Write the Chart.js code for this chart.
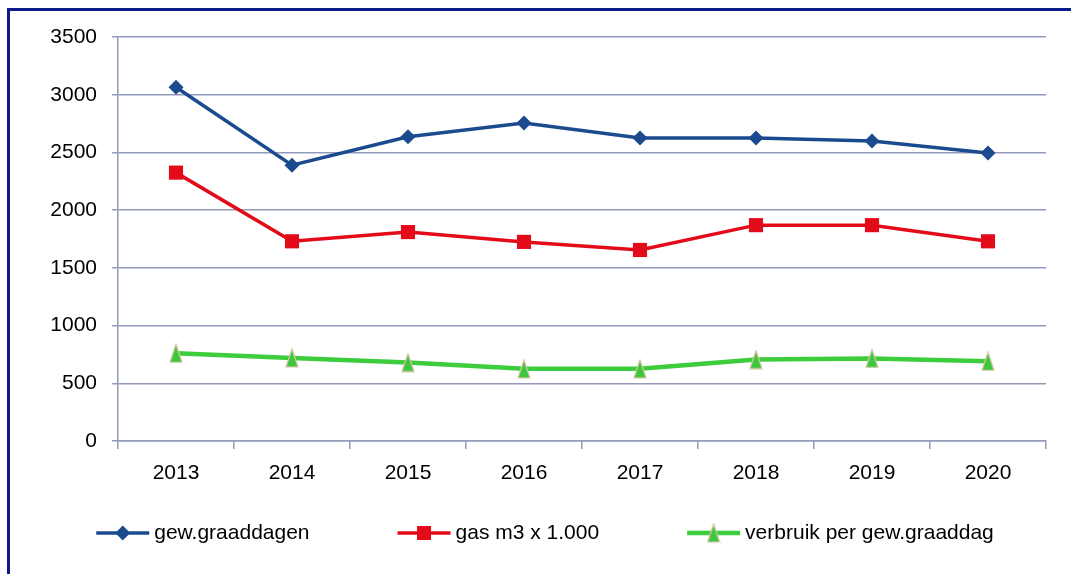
<!DOCTYPE html>
<html>
<head>
<meta charset="utf-8">
<script src="https://cdn.jsdelivr.net/npm/chart.js@4/dist/chart.umd.min.js"></script>
<style>
    html, body { margin: 0; padding: 0; background: #fff; overflow: hidden; }
    #wrap { position: relative; width: 1071px; height: 574px; }
    #frame {
        position: absolute; left: 7px; top: 8px; width: 1200px; height: 700px;
        border-left: 3px solid #0c1a8c; border-top: 3px solid #0c1a8c;
        pointer-events: none;
    }
    canvas { position: absolute; left: 0; top: 0; }
</style>
</head>
<body>
<div id="wrap">
    <canvas id="gasChart" width="1071" height="574"></canvas>
    <div id="frame"></div>
</div>
<script>
// Gegevens
const jaren = ["2013", "2014", "2015", "2016", "2017", "2018", "2019", "2020"];
const graaddagen = [3065, 2390, 2635, 2755, 2625, 2625, 2600, 2495];
const gasM3 = [2325, 1730, 1810, 1725, 1655, 1870, 1870, 1730];
const verbruikPerGraaddag = [760, 720, 680, 625, 625, 705, 715, 690];

const FONT = "'Liberation Sans', Arial, sans-serif";
const GRID = "#9399ba";

// Hoge driehoek als marker (zoals in Excel)
function maakDriehoek() {
    const c = document.createElement("canvas");
    c.width = 14;
    c.height = 20;
    const g = c.getContext("2d");
    g.beginPath();
    g.moveTo(7, 1);
    g.lineTo(13, 19);
    g.lineTo(1, 19);
    g.closePath();
    g.fillStyle = "#3cc83c";
    g.fill();
    g.lineWidth = 1.2;
    g.strokeStyle = "#dcc3a6";
    g.stroke();
    return c;
}
const driehoek = maakDriehoek();

// Eigen legenda: lijn + marker + tekst
const legendaPlugin = {
    id: "legenda",
    afterDraw(chart) {
        const ctx = chart.ctx;
        ctx.save();
        ctx.font = "21px " + FONT;
        ctx.textBaseline = "middle";
        const lijnLen = 53, gat = 5, tussen = 88;
        const items = chart.data.datasets.map(ds => ({
            ds, w: lijnLen + gat + ctx.measureText(ds.label).width
        }));
        const totaal = items.reduce((s, it) => s + it.w, 0) + tussen * (items.length - 1);
        let x = 545 - totaal / 2;
        const y = 533;
        items.forEach(it => {
            const ds = it.ds;
            ctx.strokeStyle = ds.borderColor;
            ctx.lineWidth = ds.borderWidth;
            ctx.beginPath();
            ctx.moveTo(x, y);
            ctx.lineTo(x + lijnLen, y);
            ctx.stroke();
            const cx = x + lijnLen / 2;
            ctx.fillStyle = ds.pointBackgroundColor;
            if (ds.pointStyle === "rectRot") {
                ctx.beginPath();
                ctx.moveTo(cx, y - 7.5);
                ctx.lineTo(cx + 7.5, y);
                ctx.lineTo(cx, y + 7.5);
                ctx.lineTo(cx - 7.5, y);
                ctx.closePath();
                ctx.fill();
            } else if (ds.pointStyle === "rect") {
                ctx.fillRect(cx - 7, y - 7, 14, 14);
            } else {
                ctx.drawImage(driehoek, cx - 7, y - 10);
            }
            ctx.fillStyle = "#000";
            ctx.fillText(ds.label, x + lijnLen + gat, y);
            x += it.w + tussen;
        });
        ctx.restore();
    }
};

function maakGrafiek() {
    const ctx = document.getElementById("gasChart").getContext("2d");

    window.gasChart = new Chart(ctx, {
        type: "line",
        data: {
            labels: jaren,
            datasets: [
                {
                    label: "gew.graaddagen",
                    data: graaddagen,
                    borderColor: "#1c4a8e",
                    backgroundColor: "#1c4a8e",
                    pointBackgroundColor: "#1c4a8e",
                    pointBorderColor: "#1c4a8e",
                    borderWidth: 3.5,
                    pointStyle: "rectRot",
                    pointRadius: 7.5,
                    pointBorderWidth: 0,
                    tension: 0
                },
                {
                    label: "gas m3 x 1.000",
                    data: gasM3,
                    borderColor: "#e30b1a",
                    backgroundColor: "#e30b1a",
                    pointBackgroundColor: "#e30b1a",
                    pointBorderColor: "#e30b1a",
                    borderWidth: 3.5,
                    pointStyle: "rect",
                    pointRadius: 10,
                    pointBorderWidth: 0,
                    tension: 0
                },
                {
                    label: "verbruik per gew.graaddag",
                    data: verbruikPerGraaddag,
                    borderColor: "#3ccc3c",
                    backgroundColor: "#3cc83c",
                    pointBackgroundColor: "#3cc83c",
                    borderWidth: 4.5,
                    pointStyle: driehoek,
                    pointRadius: 9,
                    tension: 0
                }
            ]
        },
        options: {
            responsive: false,
            animation: false,
            layout: { padding: { top: 37, left: 0, right: 25, bottom: 83 } },
            plugins: {
                legend: { display: false },
                tooltip: { enabled: false }
            },
            scales: {
                x: {
                    offset: true,
                    afterFit: s => { s.height = 50; },
                    grid: {
                        offset: true,
                        drawOnChartArea: false,
                        drawTicks: true,
                        tickLength: 8,
                        color: GRID,
                        lineWidth: 1.5
                    },
                    border: { color: GRID, width: 1.5 },
                    ticks: { color: "#000", padding: 12, font: { family: FONT, size: 21 } }
                },
                y: {
                    min: 0,
                    max: 3500,
                    afterFit: s => { s.width = 118; },
                    grid: { color: GRID, lineWidth: 1.5, tickLength: 6 },
                    border: { color: GRID, width: 1.5 },
                    ticks: {
                        stepSize: 500,
                        color: "#000",
                        padding: 15,
                        font: { family: FONT, size: 21 },
                        callback: v => String(v)
                    }
                }
            }
        },
        plugins: [legendaPlugin]
    });
}

document.addEventListener("DOMContentLoaded", () => {
    maakGrafiek();
});
</script>
</body>
</html>
